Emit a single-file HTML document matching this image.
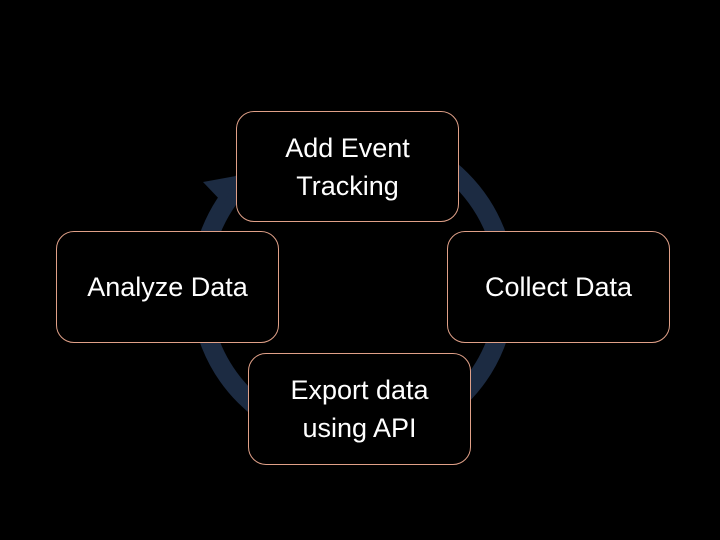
<!DOCTYPE html>
<html><head><style>
body{margin:0;width:720px;height:540px;background:#000;overflow:hidden;position:relative;font-family:"Liberation Sans",sans-serif}
.b{position:absolute;background:#000;border:1px solid #e0a088;border-radius:18px;color:#fff;font-size:27px;display:flex;align-items:center;justify-content:center;text-align:center;line-height:38px;box-sizing:border-box}
</style></head><body>
<svg width="720" height="540" style="position:absolute;left:0;top:0">
<circle cx="353" cy="288" r="153" fill="none" stroke="#1c2b42" stroke-width="19"/>
<polygon points="236,176 203,182 224,204" fill="#1c2b42"/>
</svg>
<div class="b" style="left:236px;top:111px;width:223px;height:111px">Add Event<br>Tracking</div>
<div class="b" style="left:56px;top:231px;width:223px;height:112px">Analyze Data</div>
<div class="b" style="left:447px;top:231px;width:223px;height:112px">Collect Data</div>
<div class="b" style="left:248px;top:353px;width:223px;height:112px">Export data<br>using API</div>
</body></html>
